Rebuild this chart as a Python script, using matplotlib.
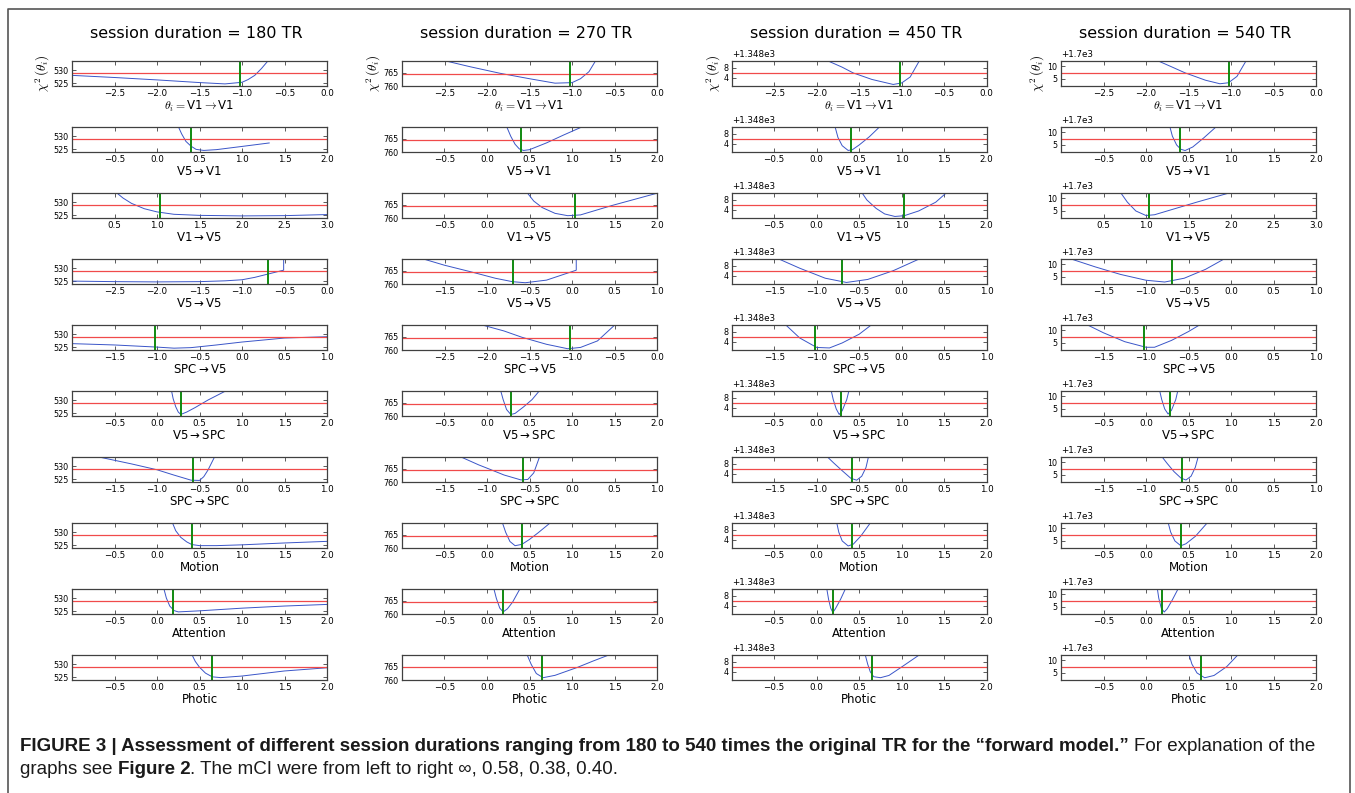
import matplotlib
matplotlib.use("Agg")
import matplotlib.pyplot as plt
from matplotlib.ticker import ScalarFormatter, FixedLocator
from matplotlib.lines import Line2D
from matplotlib import font_manager
from matplotlib.font_manager import FontProperties

# ---------------- data ----------------
DURATIONS = [180, 270, 450, 540]
PARAM_LABELS = [r'$\theta_i = $V1$\rightarrow$V1', r'V5$\rightarrow$V1', r'V1$\rightarrow$V5',
                r'V5$\rightarrow$V5', r'SPC$\rightarrow$V5', r'V5$\rightarrow$SPC',
                r'SPC$\rightarrow$SPC', 'Motion', 'Attention', 'Photic']
TRUE_VALUES = [-1.02, 0.40, 1.03, -0.70, -1.02, 0.28, -0.58, 0.41, 0.19, 0.65]

XSTART_180 = [-3, -1, 0, -3, -2, -1, -2, -1, -1, -1]
XSTART_270 = [-3, -1, -1, -2, -3, -1, -2, -1, -1, -1]
XSTART_450 = [-3, -1, -1, -2, -2, -1, -2, -1, -1, -1]
XSTART_540 = [-3, -1, 0, -2, -2, -1, -2, -1, -1, -1]

Y_OFFSETS = [0, 0, 1348, 1700]
YLIMS = [(523.9, 533.5), (759.9, 769.7), (0.56, 10.8), (2.1, 12.2)]   # relative to offset
YTICKS = [[525, 530], [760, 765], [4, 8], [5, 10]]
THRESHOLDS = [528.85, 764.8, 5.9, 7.4]

CURVES_180 = [
    ([-3.0, -2.5, -2.0, -1.5, -1.2, -1.0, -0.93, -0.85, -0.77, -0.69],
     [528.0, 527.2, 526.3, 525.3, 524.8, 525.4, 526.4, 528.0, 530.6, 533.6]),
    ([0.25, 0.29, 0.34, 0.40, 0.46, 0.55, 0.7, 1.0, 1.32],
     [533.6, 530.8, 528.0, 526.2, 525.0, 524.6, 524.9, 526.1, 527.4]),
    ([0.52, 0.6, 0.7, 0.85, 1.0, 1.2, 1.5, 2.0, 2.5, 3.0],
     [533.6, 531.5, 529.5, 527.5, 526.3, 525.4, 525.0, 524.8, 524.9, 525.3]),
    ([-3.0, -2.5, -2.0, -1.5, -1.2, -1.0, -0.85, -0.7, -0.51, -0.51],
     [525.1, 524.9, 524.8, 524.9, 525.2, 525.6, 526.5, 527.7, 529.2, 533.6]),
    ([-2.0, -1.5, -1.0, -0.8, -0.6, -0.3, 0.0, 0.5, 1.0],
     [526.4, 525.9, 525.1, 524.7, 524.9, 525.9, 527.0, 528.5, 529.0]),
    ([0.17, 0.19, 0.22, 0.25, 0.28, 0.35, 0.45, 0.6, 0.82],
     [533.6, 530.5, 527.5, 525.5, 524.6, 525.5, 527.2, 530.0, 533.6]),
    ([-1.67, -1.3, -1.0, -0.8, -0.6, -0.5, -0.45, -0.4, -0.32],
     [533.3, 530.8, 528.6, 526.6, 524.7, 524.6, 526.0, 528.5, 533.6]),
    ([0.18, 0.22, 0.28, 0.35, 0.41, 0.5, 0.7, 1.0, 1.5, 2.0],
     [533.6, 530.5, 528.0, 526.3, 525.3, 524.9, 524.9, 525.2, 525.9, 526.5]),
    ([0.08, 0.11, 0.15, 0.2, 0.25, 0.5, 1.0, 1.5, 2.0],
     [533.6, 530.0, 527.0, 525.3, 524.8, 525.2, 526.2, 527.0, 527.6]),
    ([0.41, 0.45, 0.5, 0.57, 0.65, 0.75, 1.0, 1.5, 2.0],
     [533.6, 531.0, 528.8, 526.6, 525.2, 524.9, 525.5, 527.4, 528.6]),
]

CURVES_270 = [
    ([-2.51, -2.2, -1.85, -1.5, -1.2, -1.0, -0.9, -0.8, -0.72],
     [769.8, 767.4, 764.9, 762.8, 761.1, 761.3, 762.8, 765.5, 769.8]),
    ([0.23, 0.28, 0.33, 0.38, 0.43, 0.5, 0.7, 0.9, 1.13],
     [769.8, 766.0, 763.0, 761.2, 760.6, 760.9, 763.5, 766.5, 769.8]),
    ([0.47, 0.55, 0.65, 0.8, 0.95, 1.1, 1.47, 2.0],
     [769.8, 766.5, 764.0, 761.8, 760.9, 761.2, 764.8, 769.5]),
    ([-1.77, -1.5, -1.18, -0.9, -0.7, -0.55, -0.3, 0.05, 0.05],
     [769.8, 767.2, 764.6, 762.2, 760.9, 760.5, 761.5, 765.3, 769.8]),
    ([-2.08, -1.8, -1.59, -1.3, -1.05, -0.9, -0.7, -0.49],
     [769.8, 767.3, 764.9, 762.2, 760.5, 761.0, 763.5, 769.8]),
    ([0.16, 0.19, 0.23, 0.28, 0.33, 0.43, 0.53, 0.62],
     [769.8, 766.3, 762.5, 760.6, 761.0, 763.5, 766.3, 769.8]),
    ([-1.32, -1.1, -0.96, -0.8, -0.6, -0.52, -0.45, -0.38],
     [769.8, 766.6, 764.8, 762.7, 760.8, 761.0, 763.5, 769.8]),
    ([0.18, 0.22, 0.27, 0.33, 0.41, 0.5, 0.6, 0.75],
     [769.8, 766.0, 762.5, 760.9, 761.4, 763.3, 765.8, 769.8]),
    ([0.08, 0.11, 0.15, 0.19, 0.24, 0.3, 0.39],
     [769.8, 766.0, 762.3, 760.8, 762.0, 764.5, 769.8]),
    ([0.47, 0.52, 0.58, 0.66, 0.8, 1.06, 1.25, 1.45],
     [769.8, 766.0, 762.5, 760.9, 761.8, 764.8, 767.3, 769.8]),
]

CURVES_450 = [   # values minus 1348
    ([-1.88, -1.7, -1.57, -1.35, -1.1, -1.0, -0.9, -0.79],
     [10.9, 8.2, 5.9, 3.3, 1.3, 1.9, 4.3, 10.9]),
    ([0.215, 0.25, 0.3, 0.37, 0.42, 0.5, 0.62, 0.745],
     [10.9, 6.5, 3.2, 1.3, 1.6, 3.5, 6.8, 10.9]),
    ([0.53, 0.59, 0.7, 0.8, 0.92, 1.03, 1.2, 1.4, 1.53],
     [10.9, 7.9, 4.5, 2.3, 1.3, 1.6, 3.5, 7.0, 10.9]),
    ([-1.46, -1.2, -0.9, -0.65, -0.4, -0.1, 0.22],
     [10.9, 7.0, 3.0, 1.3, 2.5, 6.0, 10.9]),
    ([-1.37, -1.2, -1.0, -0.85, -0.7, -0.5, -0.35],
     [10.9, 5.5, 1.7, 1.5, 3.5, 7.0, 10.9]),
    ([0.17, 0.195, 0.23, 0.265, 0.3, 0.353, 0.38],
     [10.9, 7.2, 3.5, 1.3, 2.8, 7.2, 10.9]),
    ([-0.88, -0.8, -0.7, -0.6, -0.53, -0.47, -0.42, -0.39],
     [10.9, 8.3, 5.2, 2.2, 1.4, 3.0, 6.5, 10.9]),
    ([0.235, 0.26, 0.3, 0.37, 0.43, 0.52, 0.635],
     [10.9, 7.0, 3.5, 1.5, 2.2, 5.5, 10.9]),
    ([0.118, 0.14, 0.165, 0.19, 0.22, 0.28, 0.34],
     [10.9, 6.5, 3.0, 1.3, 2.8, 6.5, 10.9]),
    ([0.57, 0.6, 0.63, 0.67, 0.75, 0.85, 1.0, 1.215],
     [10.9, 7.0, 4.0, 2.0, 1.6, 2.5, 5.9, 10.9]),
]

CURVES_540 = [   # values minus 1700
    ([-1.87, -1.7, -1.54, -1.3, -1.13, -1.03, -0.93, -0.82],
     [12.3, 9.8, 7.4, 4.5, 3.1, 3.5, 6.0, 12.3]),
    ([0.28, 0.31, 0.36, 0.41, 0.46, 0.55, 0.68, 0.83],
     [12.3, 8.5, 5.0, 3.3, 2.8, 4.2, 7.8, 12.3]),
    ([0.7, 0.78, 0.88, 1.0, 1.1, 1.3, 1.6, 2.0],
     [12.3, 8.5, 5.0, 3.2, 3.5, 5.5, 8.5, 12.3]),
    ([-1.9, -1.6, -1.3, -1.0, -0.78, -0.55, -0.3, -0.07],
     [12.3, 9.0, 6.0, 3.7, 3.0, 4.5, 8.0, 12.3]),
    ([-1.7, -1.5, -1.25, -1.0, -0.9, -0.7, -0.5, -0.36],
     [12.3, 9.0, 5.5, 3.3, 3.3, 6.0, 9.5, 12.3]),
    ([0.16, 0.185, 0.22, 0.26, 0.3, 0.35, 0.375],
     [12.3, 8.7, 5.0, 3.0, 4.5, 8.7, 12.3]),
    ([-0.815, -0.75, -0.67, -0.59, -0.53, -0.47, -0.42, -0.385],
     [12.3, 9.5, 6.3, 3.8, 3.0, 4.5, 8.0, 12.3]),
    ([0.26, 0.29, 0.34, 0.41, 0.47, 0.58, 0.725],
     [12.3, 8.5, 5.0, 3.1, 3.9, 6.8, 12.3]),
    ([0.133, 0.15, 0.18, 0.215, 0.25, 0.31, 0.38],
     [12.3, 8.5, 4.5, 3.0, 4.3, 7.8, 12.3]),
    ([0.506, 0.54, 0.6, 0.69, 0.8, 0.95, 1.086],
     [12.3, 8.5, 5.0, 3.1, 4.0, 7.5, 12.3]),
]

ALL_CURVES = [CURVES_180, CURVES_270, CURVES_450, CURVES_540]
ALL_XSTART = [XSTART_180, XSTART_270, XSTART_450, XSTART_540]

# ---------------- layout / style ----------------
W, H = 1355, 793
plt.rcParams['mathtext.fontset'] = 'dejavusans'
fig = plt.figure(figsize=(W / 100, H / 100), dpi=100)

COL_LEFT = [72, 402, 731.7, 1061]
AX_W = 255
ROW_TOP0 = 60.7
ROW_STEP = 66
AX_H = 25.6

BLUE = '#3a55c8'
RED = '#f04a4a'
GREEN = '#108a10'
SPINE = '#404040'
TICK_FS = 6.3
YTICK_FS = 5.8

for c in range(4):
    off = Y_OFFSETS[c]
    for r in range(10):
        top = ROW_TOP0 + ROW_STEP * r
        ax = fig.add_axes([COL_LEFT[c] / W, 1 - (top + AX_H) / H, AX_W / W, AX_H / H])
        xs, ys = ALL_CURVES[c][r]
        ax.plot(xs, [v + off for v in ys], color=BLUE, lw=0.7)
        ax.axhline(THRESHOLDS[c] + off, color=RED, lw=0.9)
        ax.axvline(TRUE_VALUES[r], color=GREEN, lw=1.4)
        a = ALL_XSTART[c][r]
        ax.set_xlim(a, a + 3)
        ax.set_ylim(YLIMS[c][0] + off, YLIMS[c][1] + off)
        ax.xaxis.set_major_locator(FixedLocator([a + 0.5 * k for k in range(1, 7)]))
        ax.yaxis.set_major_locator(FixedLocator([t + off for t in YTICKS[c]]))
        if off:
            ax.yaxis.set_major_formatter(ScalarFormatter(useOffset=off))
            ax.yaxis.get_offset_text().set_fontsize(TICK_FS)
        ax.tick_params(direction='in', top=True, right=True, length=3, width=0.6,
                       labelsize=TICK_FS, pad=2, color=SPINE)
        ax.tick_params(axis='y', pad=2.5, labelsize=YTICK_FS)
        for s in ax.spines.values():
            s.set_color(SPINE)
            s.set_linewidth(0.9)
        if r == 0:
            ax.set_xlabel(PARAM_LABELS[r], fontsize=8.5, labelpad=1,
                          math_fontfamily='cm')
            ax.set_ylabel(r'$\chi^2\,(\theta_i)$', fontsize=9.5, labelpad=0.5,
                          math_fontfamily='cm')
        else:
            ax.set_xlabel(PARAM_LABELS[r], fontsize=8.5, labelpad=1)
    fig.text((COL_LEFT[c] + AX_W / 2 - 3.5) / W, 1 - 34 / H,
             f'session duration = {DURATIONS[c]} TR', fontsize=11.5,
             ha='center', va='center')

# frame around the figure panel
x0, x1, y1 = 8 / W, 1350 / W, 1 - 9 / H
fig.add_artist(Line2D([x0, x0, x1, x1], [0, y1, y1, 0], transform=fig.transFigure,
                      color='#555555', lw=1.2))

# ---------------- caption ----------------
def pick_font():
    for fam in ['Liberation Sans Narrow', 'Liberation Sans']:
        try:
            font_manager.findfont(FontProperties(family=fam), fallback_to_default=False)
            return fam
        except Exception:
            continue
    return 'DejaVu Sans'

CAP_FONT = [pick_font(), 'DejaVu Sans']
renderer = fig.canvas.get_renderer()

LINE1 = [('FIGURE 3 | Assessment of different session durations ranging from 180 to 540 times '
          'the original TR for the \u201cforward model.\u201d', 'bold'),
         ('For explanation of the', 'normal')]
LINE2 = [('graphs see', 'normal'), ('Figure 2', 'bold'),
         ('. The mCI were from left to right \u221e, 0.58, 0.38, 0.40.', 'normal')]
GAPS2 = [True, False]


def width_of(txt, weight, fs):
    t = fig.text(0, 0, txt, fontsize=fs, fontweight=weight, family=CAP_FONT)
    w = t.get_window_extent(renderer).width
    t.remove()
    return w


def space_w(weight, fs):
    return width_of('x x', weight, fs) - width_of('xx', weight, fs)


fs0 = 10.0
w_line1 = width_of(LINE1[0][0], 'bold', fs0) + space_w('bold', fs0) + width_of(LINE1[1][0], 'normal', fs0)
FS = fs0 * (1297 / w_line1)


def place(runs, gaps, y_px):
    x = 20.0
    for i, (txt, weight) in enumerate(runs):
        t = fig.text(x / W, 1 - y_px / H, txt, fontsize=FS, fontweight=weight,
                     family=CAP_FONT, va='baseline', ha='left', color='#1a1a1a')
        x += t.get_window_extent(renderer).width
        if i < len(gaps) and gaps[i]:
            x += space_w(weight, FS)


place(LINE1, [True], 751)
place(LINE2, GAPS2, 774)

fig.savefig('out.png', dpi=100)
